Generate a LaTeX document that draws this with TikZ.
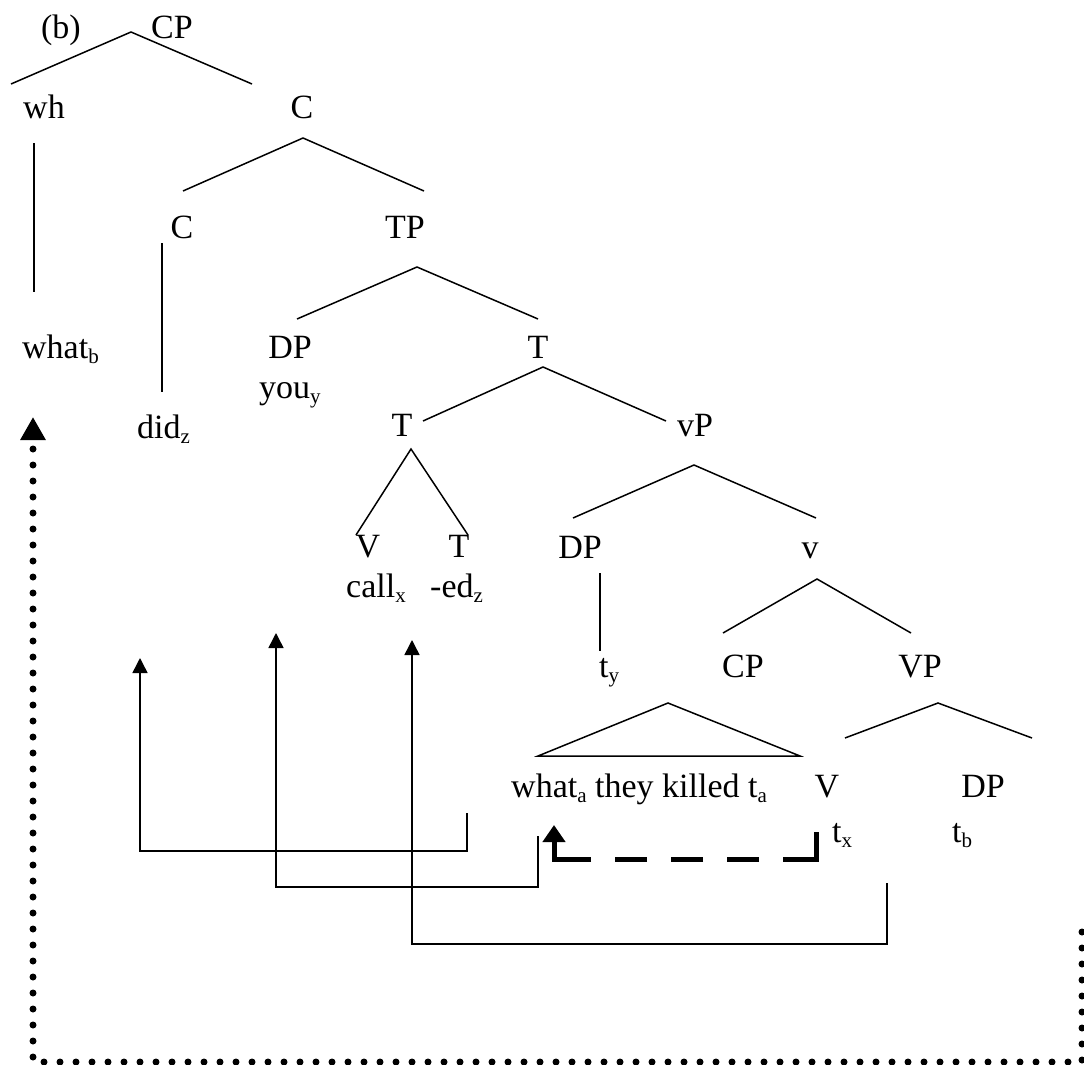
\documentclass[tikz,border=0pt]{standalone}
\usepackage{fontspec}
\setmainfont{Liberation Serif}
\usetikzlibrary{arrows.meta}
\newcommand{\lsub}[1]{\raisebox{-5pt}{\fontsize{21}{21}\selectfont #1}}
\begin{document}
\begin{tikzpicture}[x=1pt,y=-1pt,
  lbl/.style={anchor=base,inner sep=0pt,font=\fontsize{34}{38}\selectfont},
  lblw/.style={lbl,anchor=base west},
  br/.style={line width=1.5pt},
  mv/.style={line width=1.5pt,-{Triangle[length=15pt,width=15pt]}},
  hmv/.style={line width=5pt,dash pattern=on 60pt off 24pt on 32pt off 24pt on 32pt off 24pt on 32pt off 24pt on 200pt,-{Triangle[length=17pt,width=22pt]}},
  wmv/.style={line width=7pt,line cap=round,dash pattern=on 0pt off 16pt,-{Triangle[length=23pt,width=24pt]}}]
\useasboundingbox (0,0) rectangle (1084,1065);
% labels
\node[lbl] (lab) at (61,39) {(b)};
\node[lbl] (cp) at (172,39) {CP};
\node[lbl] (wh) at (44,118) {wh};
\node[lbl] (c1) at (302,118) {C};
\node[lblw] (whatb) at (22,358) {what\lsub{b}};
\node[lbl] (c2) at (182,238) {C};
\node[lbl] (tp) at (405,238) {TP};
\node[lblw] (did) at (137,438) {did\lsub{z}};
\node[lbl] (dp1) at (290,358) {DP};
\node[lblw] (you) at (259,398) {you\lsub{y}};
\node[lbl] (t1) at (538,358) {T};
\node[lbl] (t2) at (402,436) {T};
\node[lbl] (vp) at (695,436) {vP};
\node[lbl] (v1) at (368,557) {V};
\node[lbl] (t3) at (459,557) {T};
\node[lblw] (call) at (346,597) {call\lsub{x}};
\node[lblw] (ed) at (430,597) {-ed\lsub{z}};
\node[lbl] (dp2) at (580,558) {DP};
\node[lbl] (vv) at (810,558) {v};
\node[lblw] (ty) at (599,677) {t\lsub{y}};
\node[lbl] (cp2) at (743,677) {CP};
\node[lbl] (vpp) at (920,677) {VP};
\node[lblw] (whata) at (511,797) {what\lsub{a} they killed t\lsub{a}};
\node[lbl] (v2) at (827,797) {V};
\node[lbl] (dp3) at (983,797) {DP};
\node[lblw] (tx) at (832,842) {t\lsub{x}};
\node[lblw] (tb) at (952,842) {t\lsub{b}};
% branch points
\coordinate (cpA) at (131,32); \coordinate (cpL) at (11,84); \coordinate (cpR) at (252,84);
\coordinate (c1A) at (303,138); \coordinate (c1L) at (183,191); \coordinate (c1R) at (424,191);
\coordinate (tpA) at (417,267); \coordinate (tpL) at (297,319); \coordinate (tpR) at (538,319);
\coordinate (t1A) at (543,367); \coordinate (t1L) at (423,421); \coordinate (t1R) at (666,421);
\coordinate (t2A) at (411,449); \coordinate (t2L) at (356,535); \coordinate (t2R) at (468,535);
\coordinate (vpA) at (694,465); \coordinate (vpL) at (573,518); \coordinate (vpR) at (816,518);
\coordinate (vvA) at (817,579); \coordinate (vvL) at (723,633); \coordinate (vvR) at (911,633);
\coordinate (cp2A) at (668,703); \coordinate (cp2L) at (538,756); \coordinate (cp2R) at (800,756);
\coordinate (vppA) at (938,703); \coordinate (vppL) at (845,738); \coordinate (vppR) at (1032,738);
\coordinate (whT) at (34,143); \coordinate (whB) at (34,292);
\coordinate (c2T) at (162,243); \coordinate (c2B) at (162,392);
\coordinate (dp2T) at (600,573); \coordinate (dp2B) at (600,651);
\draw[br] (cpL) -- (cpA) -- (cpR);
\draw[br] (c1L) -- (c1A) -- (c1R);
\draw[br] (tpL) -- (tpA) -- (tpR);
\draw[br] (t1L) -- (t1A) -- (t1R);
\draw[br] (t2L) -- (t2A) -- (t2R);
\draw[br] (vpL) -- (vpA) -- (vpR);
\draw[br] (vvL) -- (vvA) -- (vvR);
\draw[br] (cp2L) -- (cp2A) -- (cp2R) -- cycle;
\draw[br] (vppL) -- (vppA) -- (vppR);
\draw[br] (whT) -- (whB);
\draw[br] (c2T) -- (c2B);
\draw[br] (dp2T) -- (dp2B);
% movement arrows
\coordinate (m1s) at (467,813); \coordinate (m1e) at (140,658);
\coordinate (m2s) at (538,836); \coordinate (m2e) at (276,633);
\coordinate (m3s) at (887,883); \coordinate (m3e) at (412,640);
\draw[mv] (m1s) |- (140,851) -- (m1e);
\draw[mv] (m2s) |- (276,887) -- (m2e);
\draw[mv] (m3s) |- (412,944) -- (m3e);
\coordinate (hs) at (816,832); \coordinate (he) at (554,825);
\draw[hmv] (hs) |- (554,859) -- (he);
\coordinate (ws) at (1082,932); \coordinate (we) at (33,417);
\draw[wmv] (ws) -- (1082,1062) -- (33,1062) -- (we);
\end{tikzpicture}
\end{document}
